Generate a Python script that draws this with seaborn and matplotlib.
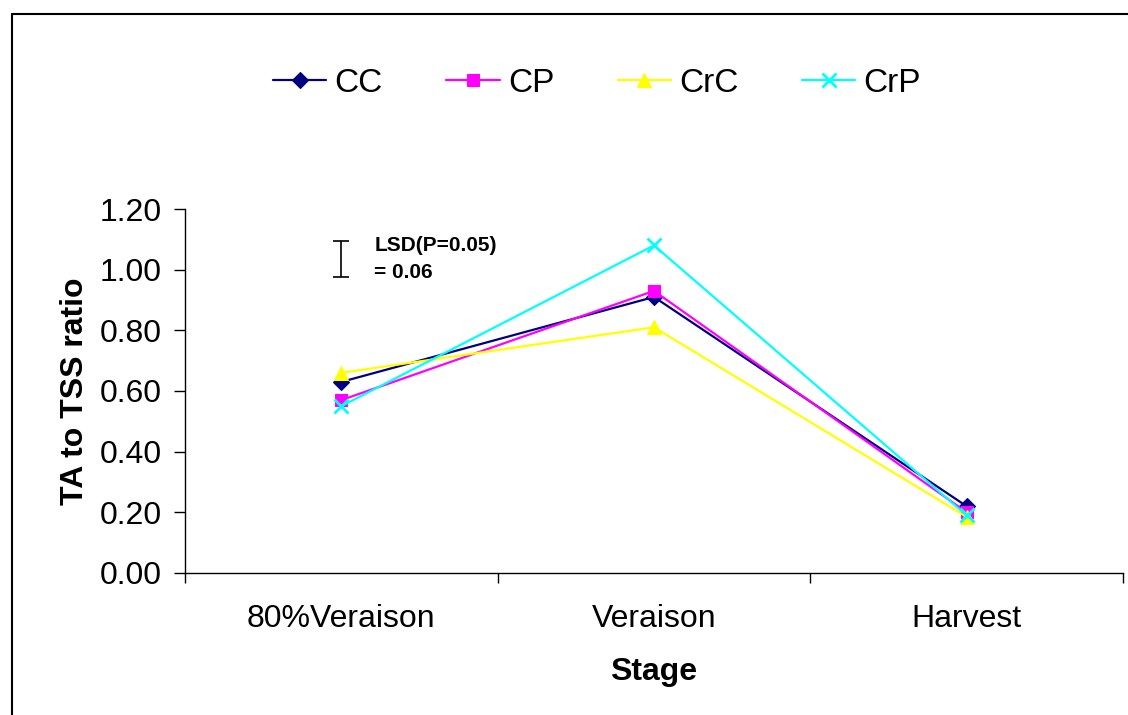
import matplotlib
matplotlib.use("Agg")
import matplotlib.pyplot as plt
from matplotlib.lines import Line2D
import seaborn as sns
import pandas as pd

stages = ["80%Veraison", "Veraison", "Harvest"]
cc = [0.63, 0.91, 0.22]
cp = [0.57, 0.93, 0.20]
crc = [0.66, 0.81, 0.185]
crp = [0.55, 1.08, 0.19]
series_names = ["CC", "CP", "CrC", "CrP"]
lsd_value = 0.06
lsd_center = 1.035
yticks = [0.0, 0.2, 0.4, 0.6, 0.8, 1.0, 1.2]

sns.set_theme(style="white")
plt.rcParams['font.family'] = ['Liberation Sans', 'DejaVu Sans']
plt.rcParams['text.color'] = 'black'
plt.rcParams['axes.labelcolor'] = 'black'
plt.rcParams['xtick.color'] = 'black'
plt.rcParams['ytick.color'] = 'black'

rows = []
for name, vals in zip(series_names, [cc, cp, crc, crp]):
    for s, v in zip(stages, vals):
        rows.append({"Stage": s, "Series": name, "Value": v})
df = pd.DataFrame(rows)

palette = {"CC": "#000080", "CP": "#FF00FF", "CrC": "#FFFF00", "CrP": "#00FFFF"}
markers = {"CC": "D", "CP": "s", "CrC": "^", "CrP": "x"}
msizes = {"CC": 8, "CP": 9, "CrC": 10, "CrP": 10}

fig = plt.figure(figsize=(11.28, 7.15), dpi=100)
ax = fig.add_axes([185/1128, 1-573/715, (1123-185)/1128, (573-209)/715])

for name in series_names:
    sub = df[df["Series"] == name]
    sns.lineplot(data=sub, x="Stage", y="Value", ax=ax, color=palette[name],
                 marker=markers[name], markersize=msizes[name],
                 markeredgewidth=2 if name == "CrP" else 0.8,
                 markeredgecolor=palette[name], linewidth=1.6, label=name,
                 sort=False)

ax.errorbar([stages[0]], [lsd_center], yerr=[lsd_value], color="black",
            capsize=6, elinewidth=1.2, capthick=1.2, fmt="none")
ax.text(0.105, lsd_center, f"LSD(P=0.05)\n= {lsd_value:.2f}", fontsize=15,
        fontweight="bold", va="center", ha="left", linespacing=1.5)

ax.set_xlim(-0.5, 2.5)
ax.set_ylim(0, 1.2)
ax.set_yticks(yticks)
ax.set_yticklabels([f"{t:.2f}" for t in yticks], fontsize=23)
ax.set_xticks([0, 1, 2])
ax.set_xticklabels(stages, fontsize=23)
ax.set_xticks([-0.5, 0.5, 1.5, 2.5], minor=True)
ax.tick_params(axis="x", which="major", length=0, pad=22)
ax.tick_params(axis="x", which="minor", length=7, width=1, color="black", direction="out", bottom=True)
ax.tick_params(axis="y", which="major", length=8, width=1, color="black", direction="out", left=True, pad=9)

for side in ["top", "right"]:
    ax.spines[side].set_visible(False)
for side in ["left", "bottom"]:
    ax.spines[side].set_color("black")
    ax.spines[side].set_linewidth(1)

ax.set_xlabel("Stage", fontsize=23, fontweight="bold", labelpad=17)
ax.set_ylabel("TA to TSS ratio", fontsize=23, fontweight="bold", labelpad=7)

ax.legend(loc="center", bbox_to_anchor=(597/1128, 1 - 83/715), bbox_transform=fig.transFigure,
          ncol=4, frameon=False, fontsize=24, handlelength=1.6, columnspacing=1.9,
          handletextpad=0.25)

fig.add_artist(Line2D([12/1128, 12/1128], [0, 1-14/715], color="black", linewidth=1.5, transform=fig.transFigure))
fig.add_artist(Line2D([12/1128, 1], [1-14/715, 1-14/715], color="black", linewidth=1.5, transform=fig.transFigure))

fig.savefig("out.png", dpi=100, facecolor="white")
